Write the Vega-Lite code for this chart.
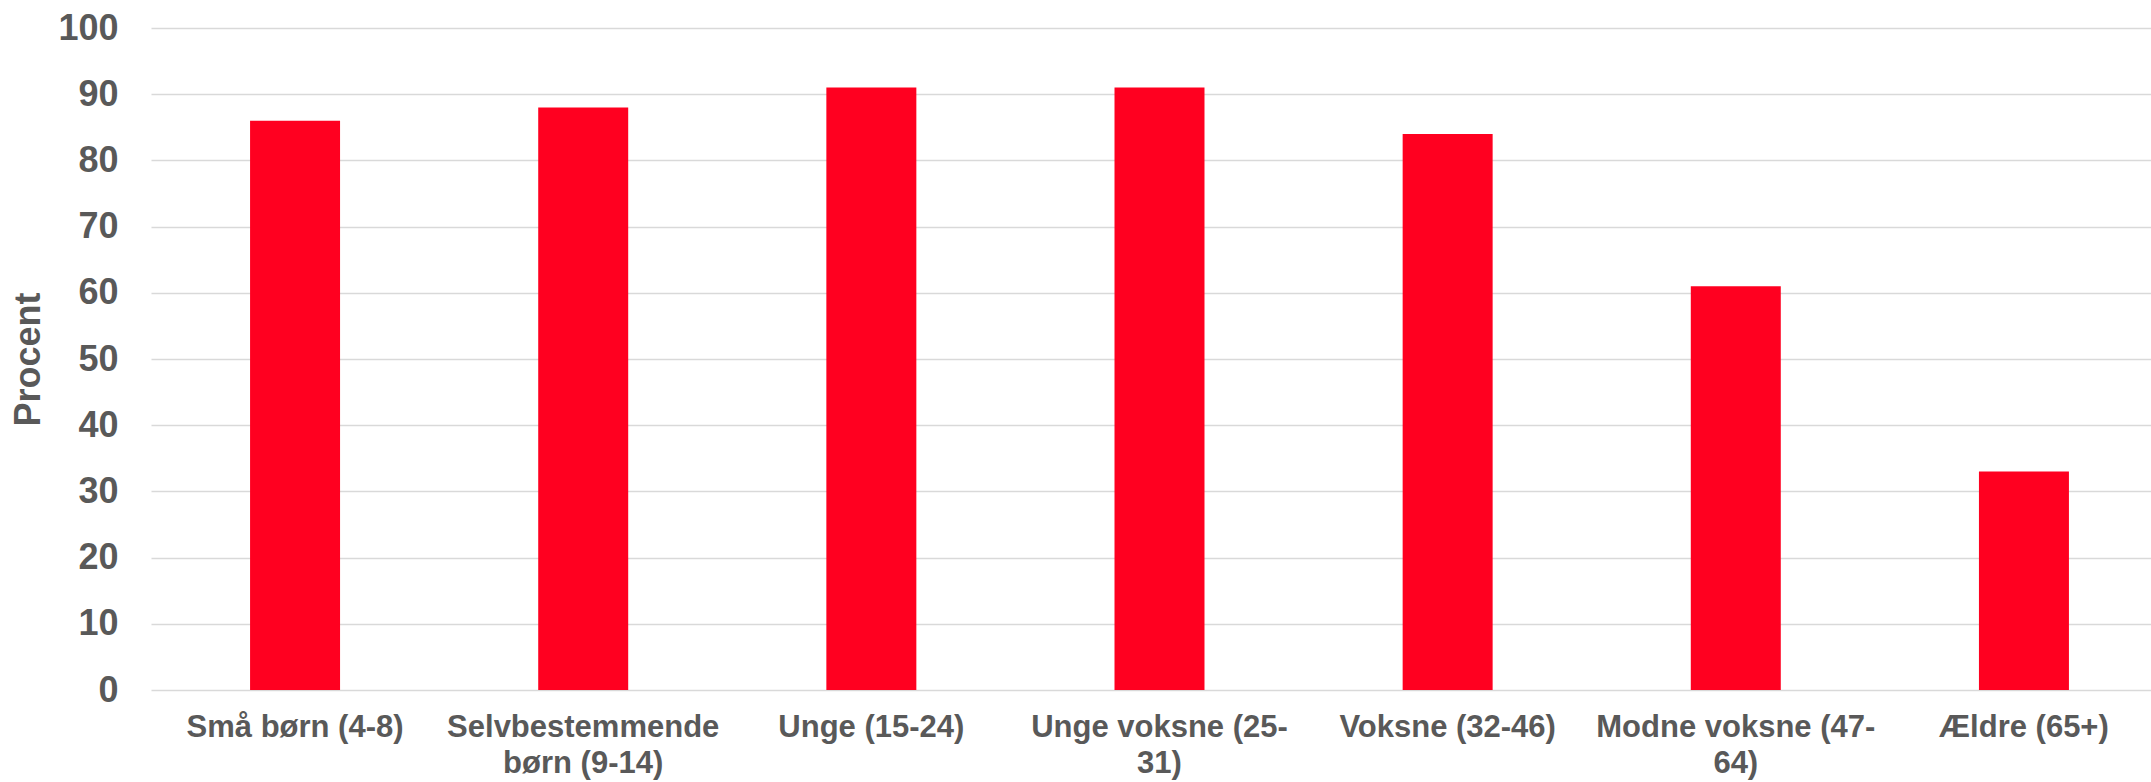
{
  "$schema": "https://vega.github.io/schema/vega-lite/v6.json",
  "width": 2000,
  "height": 662,
  "autosize": {"type": "none"},
  "padding": {"left": 151, "top": 28, "right": 0, "bottom": 92},
  "background": "white",
  "config": {"view": {"stroke": null}},
  "data": {
    "values": [
      {"gruppe": "Små børn (4-8)", "procent": 86},
      {"gruppe": "Selvbestemmende børn (9-14)", "procent": 88},
      {"gruppe": "Unge (15-24)", "procent": 91},
      {"gruppe": "Unge voksne (25-31)", "procent": 91},
      {"gruppe": "Voksne (32-46)", "procent": 84},
      {"gruppe": "Modne voksne (47-64)", "procent": 61},
      {"gruppe": "Ældre (65+)", "procent": 33}
    ]
  },
  "mark": {"type": "bar", "color": "#FF0020"},
  "encoding": {
    "x": {
      "field": "gruppe",
      "type": "nominal",
      "sort": null,
      "scale": {"paddingInner": 0.6877, "paddingOuter": 0.3438, "range": [0, 2017]},
      "axis": {
        "title": null,
        "domain": false,
        "ticks": false,
        "labelAngle": 0,
        "labelFont": "Liberation Sans",
        "labelFontWeight": "bold",
        "labelFontSize": 31,
        "labelColor": "#595959",
        "labelPadding": 22,
        "labelLineHeight": 36,
        "labelLimit": 400,
        "labelExpr": "datum.value == 'Selvbestemmende børn (9-14)' ? ['Selvbestemmende', 'børn (9-14)'] : datum.value == 'Unge voksne (25-31)' ? ['Unge voksne (25-', '31)'] : datum.value == 'Modne voksne (47-64)' ? ['Modne voksne (47-', '64)'] : datum.label"
      }
    },
    "y": {
      "field": "procent",
      "type": "quantitative",
      "scale": {"domain": [0, 100], "nice": false},
      "axis": {
        "title": "Procent",
        "titleFont": "Liberation Sans",
        "titleFontWeight": "bold",
        "titleFontSize": 36,
        "titleColor": "#595959",
        "titlePadding": 10,
        "values": [0, 10, 20, 30, 40, 50, 60, 70, 80, 90, 100],
        "domain": false,
        "ticks": false,
        "grid": true,
        "gridColor": "#D9D9D9",
        "gridWidth": 1.5,
        "labelFont": "Liberation Sans",
        "labelFontWeight": "bold",
        "labelFontSize": 36,
        "labelColor": "#595959",
        "labelPadding": 33
      }
    }
  }
}
